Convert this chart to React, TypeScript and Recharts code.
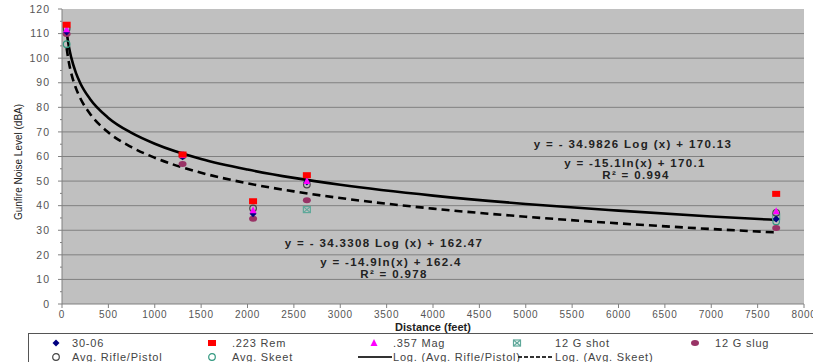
import React from 'react';
import { ComposedChart, Scatter, Line, XAxis, YAxis, ReferenceLine, ReferenceArea } from 'recharts';

// ---- data ----
const distanceFt = [50, 1300, 2060, 2640, 7700];
const rem223 = [113.6, 60.8, 41.8, 52.4, 44.8];
const mag357 = [111.8, 60.6, 38.1, 50.0, 37.7];
const sp3006 = [110.6, 59.9, 36.7, 49.6, 34.6];
const shot12g: (number | null)[] = [null, null, null, 38.4, 35.5];
const slug12g = [109.8, 57.0, 34.7, 42.2, 30.9];
const avgRifle = [112.0, 60.4, 38.9, 48.6, 37.1];
const avgSkeet: (number | null)[] = [105.7, null, null, null, 33.6];

const trendX = [50, 75, 100, 150, 200, 300, 500, 750, 1000, 1500, 2000, 2500, 3000, 4000, 5000, 6000, 7000, 7700];
const trendRifle = [110.7, 104.5, 100.2, 94.0, 89.6, 83.5, 75.7, 69.6, 65.2, 59.0, 54.7, 51.3, 48.5, 44.1, 40.7, 38.0, 35.6, 34.2];
const trendSkeet = [104.1, 98.1, 93.8, 87.8, 83.5, 77.5, 69.8, 63.8, 59.5, 53.4, 49.1, 45.8, 43.1, 38.8, 35.5, 32.8, 30.5, 29.1];

const xTicks = [0, 500, 1000, 1500, 2000, 2500, 3000, 3500, 4000, 4500, 5000, 5500, 6000, 6500, 7000, 7500, 8000];
const yTicks = [0, 5, 10, 15, 20, 25, 30, 35, 40, 45, 50, 55, 60, 65, 70, 75, 80, 85, 90, 95, 100, 105, 110, 115, 120];
const yGrid = [10, 20, 30, 40, 50, 60, 70, 80, 90, 100, 110];

const xTitle = 'Distance (feet)';
const yTitle = 'Gunfire Noise Level (dBA)';
const eqRifle = ['y = - 34.9826 Log (x) + 170.13', 'y = -15.1ln(x) + 170.1', 'R² = 0.994'];
const eqSkeet = ['y = - 34.3308 Log (x) + 162.47', 'y = -14.9ln(x) + 162.4', 'R² = 0.978'];

const toPts = (ys: (number | null)[]) =>
  distanceFt.map((x, i) => ({ x, y: ys[i] })).filter((p) => p.y != null);
const toLine = (ys: number[]) => trendX.map((x, i) => ({ x, y: ys[i] }));

const FONT = '"Liberation Sans", Arial, sans-serif';

// ---- marker shapes ----
const Diamond = ({ cx, cy }: any) => (
  <polygon points={`${cx},${cy - 3.5} ${cx + 3.5},${cy} ${cx},${cy + 3.5} ${cx - 3.5},${cy}`} fill="#000080" />
);
const Square = ({ cx, cy }: any) => <rect x={cx - 4} y={cy - 3} width={8} height={6} fill="#ff0000" />;
const Triangle = ({ cx, cy }: any) => (
  <polygon points={`${cx},${cy - 4} ${cx + 3.5},${cy + 3} ${cx - 3.5},${cy + 3}`} fill="#ff00ff" />
);
const Star = ({ cx, cy }: any) => (
  <g stroke="#5fa89a" strokeWidth={1.2} fill="none">
    <rect x={cx - 3.5} y={cy - 3} width={7} height={6} />
    <line x1={cx - 3.5} y1={cy - 3} x2={cx + 3.5} y2={cy + 3} />
    <line x1={cx + 3.5} y1={cy - 3} x2={cx - 3.5} y2={cy + 3} />
  </g>
);
const Slug = ({ cx, cy }: any) => <ellipse cx={cx} cy={cy} rx={4} ry={3} fill="#993366" />;
const OpenDark = ({ cx, cy }: any) => <circle cx={cx} cy={cy} r={3.3} fill="none" stroke="#444" strokeWidth={1.2} />;
const OpenTeal = ({ cx, cy }: any) => <circle cx={cx} cy={cy} r={3.3} fill="none" stroke="#339980" strokeWidth={1.2} />;

const YTick = ({ x, y, payload }: any) => {
  const v = payload.value;
  const major = v % 10 === 0;
  const ax = x + 12;
  return (
    <g>
      <line x1={major ? ax - 4 : ax - 2} x2={ax} y1={y} y2={y} stroke="#808080" />
      {major && (
        <text x={x} y={y} dy="0.35em" textAnchor="end" fontSize={10.5} fill="#555" fontFamily={FONT} style={{ letterSpacing: '1px' }}>
          {v}
        </text>
      )}
    </g>
  );
};

const XTick = ({ x, y, payload }: any) => (
  <text x={x} y={y} dy="0.71em" textAnchor="middle" fontSize={10} fill="#555" fontFamily={FONT} style={{ letterSpacing: '0.7px' }}>
    {payload.value}
  </text>
);

const LegendMarker = ({ kind }: { kind: string }) => {
  const w = kind.startsWith('line') ? 34 : 12;
  return (
    <svg width={w} height={10} style={{ verticalAlign: 'middle', display: 'inline-block' }}>
      {kind === 'diamond' && <Diamond cx={6} cy={5} />}
      {kind === 'square' && <Square cx={6} cy={5} />}
      {kind === 'triangle' && <Triangle cx={6} cy={5} />}
      {kind === 'star' && <Star cx={6} cy={5} />}
      {kind === 'slug' && <Slug cx={6} cy={5} />}
      {kind === 'openDark' && <OpenDark cx={6} cy={5} />}
      {kind === 'openTeal' && <OpenTeal cx={6} cy={5} />}
      {kind === 'lineSolid' && <line x1={0} x2={34} y1={5} y2={5} stroke="#333" strokeWidth={2} />}
      {kind === 'lineDash' && <line x1={0} x2={34} y1={5} y2={5} stroke="#333" strokeWidth={2} strokeDasharray="4 2" />}
    </svg>
  );
};

const legendItems = [
  { label: '30-06', kind: 'diamond', mx: 50, tx: 72, row: 0 },
  { label: '.223 Rem', kind: 'square', mx: 206, tx: 232, row: 0 },
  { label: '.357 Mag', kind: 'triangle', mx: 368, tx: 393, row: 0 },
  { label: '12 G shot', kind: 'star', mx: 511, tx: 555, row: 0 },
  { label: '12 G slug', kind: 'slug', mx: 689, tx: 715, row: 0 },
  { label: 'Avg. Rifle/Pistol', kind: 'openDark', mx: 50, tx: 72, row: 1 },
  { label: 'Avg. Skeet', kind: 'openTeal', mx: 206, tx: 232, row: 1 },
  { label: 'Log. (Avg. Rifle/Pistol)', kind: 'lineSolid', mx: 358, tx: 393, row: 1 },
  { label: 'Log. (Avg. Skeet)', kind: 'lineDash', mx: 518, tx: 555, row: 1 },
];

const eqStyle: React.CSSProperties = {
  position: 'absolute',
  fontFamily: FONT,
  fontWeight: 'bold',
  fontSize: 11.5,
  letterSpacing: '1.35px',
  color: '#222',
  whiteSpace: 'nowrap',
  transform: 'translate(-50%, -50%)',
  lineHeight: '9px',
  height: 9,
};

export default function App() {
  return (
    <div style={{ position: 'absolute', left: 0, top: 0, width: 813, height: 362, background: '#fff', overflow: 'hidden' }}>
      <ComposedChart width={813} height={362} margin={{ top: 9, right: 9, left: 0, bottom: 28 }}>
        <XAxis
          type="number"
          dataKey="x"
          domain={[0, 8000]}
          ticks={xTicks}
          interval={0}
          allowDataOverflow
          height={30}
          tickSize={4}
          tickMargin={3}
          stroke="#808080"
          tick={<XTick />}
        />
        <YAxis
          type="number"
          dataKey="y"
          domain={[0, 120]}
          ticks={yTicks}
          interval={0}
          width={62}
          tickSize={4}
          tickMargin={8}
          tickLine={false}
          stroke="#808080"
          tick={<YTick />}
        />
        <ReferenceArea x1={0} x2={8000} y1={0} y2={120} fill="#c0c0c0" fillOpacity={1} stroke="none" />
        {yGrid.map((v) => (
          <ReferenceLine key={v} y={v} stroke="#808080" strokeWidth={1} />
        ))}
        <Line data={toLine(trendRifle)} dataKey="y" type="monotone" stroke="#000" strokeWidth={2.6} dot={false} isAnimationActive={false} />
        <Line data={toLine(trendSkeet)} dataKey="y" type="monotone" stroke="#000" strokeWidth={2.6} strokeDasharray="8 5" dot={false} isAnimationActive={false} />
        <Scatter data={toPts(avgSkeet)} dataKey="y" shape={<OpenTeal />} isAnimationActive={false} />
        <Scatter data={toPts(shot12g)} dataKey="y" shape={<Star />} isAnimationActive={false} />
        <Scatter data={toPts(slug12g)} dataKey="y" shape={<Slug />} isAnimationActive={false} />
        <Scatter data={toPts(avgRifle)} dataKey="y" shape={<OpenDark />} isAnimationActive={false} />
        <Scatter data={toPts(sp3006)} dataKey="y" shape={<Diamond />} isAnimationActive={false} />
        <Scatter data={toPts(mag357)} dataKey="y" shape={<Triangle />} isAnimationActive={false} />
        <Scatter data={toPts(rem223)} dataKey="y" shape={<Square />} isAnimationActive={false} />
      </ComposedChart>

      {/* axis titles */}
      <div
        style={{
          position: 'absolute',
          left: 18,
          top: 162,
          transform: 'translate(-50%, -50%) rotate(-90deg)',
          fontFamily: FONT,
          fontSize: 10,
          color: '#222',
          whiteSpace: 'nowrap',
        }}
      >
        {yTitle}
      </div>
      <div
        style={{
          position: 'absolute',
          left: 433,
          top: 327,
          transform: 'translate(-50%, -50%)',
          fontFamily: FONT,
          fontSize: 11,
          fontWeight: 'bold',
          color: '#222',
          whiteSpace: 'nowrap',
        }}
      >
        {xTitle}
      </div>

      {/* trendline equations */}
      <div style={{ ...eqStyle, left: 633, top: 144 }}>{eqRifle[0]}</div>
      <div style={{ ...eqStyle, left: 635, top: 163 }}>{eqRifle[1]}</div>
      <div style={{ ...eqStyle, left: 636, top: 174.5 }}>{eqRifle[2]}</div>
      <div style={{ ...eqStyle, left: 384, top: 243 }}>{eqSkeet[0]}</div>
      <div style={{ ...eqStyle, left: 391, top: 262 }}>{eqSkeet[1]}</div>
      <div style={{ ...eqStyle, left: 394, top: 273.5 }}>{eqSkeet[2]}</div>

      {/* legend */}
      <div
        style={{
          position: 'absolute',
          left: 28,
          top: 333,
          width: 800,
          height: 40,
          border: '1px solid #555',
          boxSizing: 'border-box',
        }}
      />
      {legendItems.map((it) => (
        <React.Fragment key={it.label}>
          <div style={{ position: 'absolute', left: it.mx, top: (it.row === 0 ? 343 : 357) - 5, height: 10, lineHeight: 0 }}>
            <LegendMarker kind={it.kind} />
          </div>
          <div
            style={{
              position: 'absolute',
              left: it.tx,
              top: (it.row === 0 ? 343 : 357) - 7,
              fontFamily: FONT,
              fontSize: 11,
              letterSpacing: '0.8px',
              color: '#444',
              whiteSpace: 'nowrap',
              lineHeight: '14px',
            }}
          >
            {it.label}
          </div>
        </React.Fragment>
      ))}
    </div>
  );
}
